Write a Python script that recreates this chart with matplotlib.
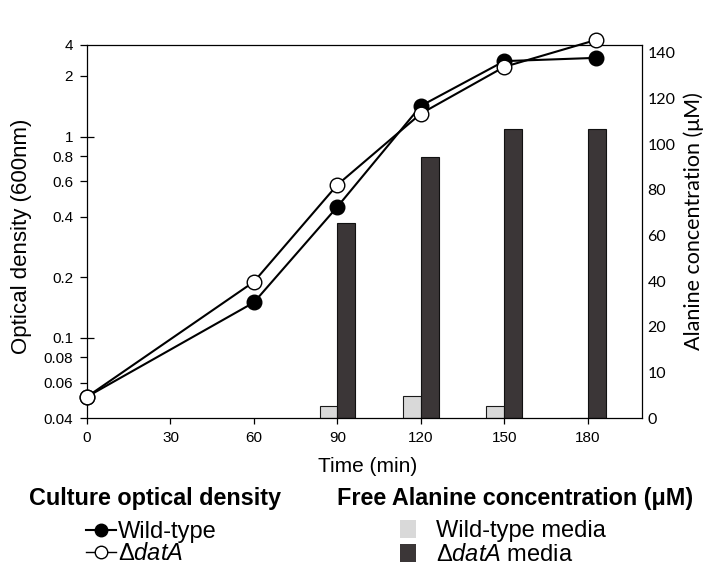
import numpy as np
import matplotlib
matplotlib.use("Agg")
import matplotlib.pyplot as plt
from matplotlib.lines import Line2D
from matplotlib.patches import Patch
from matplotlib.ticker import FixedLocator, FixedFormatter

plt.rcParams['font.family'] = ['Liberation Sans', 'DejaVu Sans']
plt.rcParams['mathtext.fontset'] = 'custom'
plt.rcParams['mathtext.rm'] = 'Liberation Sans'
plt.rcParams['mathtext.it'] = 'Liberation Sans:italic'

############################################################ DATA ##################################

time_min = [0, 60, 90, 120, 150, 183]
od_wildtype = [0.051, 0.150, 0.448, 1.42, 2.37, 2.46]
od_datA = [0.051, 0.190, 0.576, 1.30, 2.22, 3.02]

bar_times = [90, 120, 150, 180]
ala_wildtype = [2.6, 4.8, 2.6, 0.0]
ala_datA = [65.6, 94.5, 106.8, 106.8]

time_ticks = [0, 30, 60, 90, 120, 150, 180]
od_major = [0.1, 1]
od_minor = [0.04, 0.06, 0.08, 0.2, 0.4, 0.6, 0.8, 2]
od_top = 2.85          # axis top, labelled "4" in the original
ala_ticks = [0, 10, 20, 40, 60, 80, 100, 120, 140]

####################################################################################################

# right axis: tick labels are evenly spaced although the steps are not
ala_levels = np.array(ala_ticks + [160], dtype=float)
ala_index = np.arange(len(ala_levels), dtype=float)

def ala_forward(v):
    return np.interp(v, ala_levels, ala_index)

def ala_inverse(i):
    return np.interp(i, ala_index, ala_levels)


fig = plt.figure(figsize=(7.1, 5.71), dpi=100)
ax = fig.add_axes([87/710, 1-418/571, (642-87)/710, (418-45)/571])
ax2 = ax.twinx()
ax.set_zorder(2)
ax.patch.set_visible(False)

# bars (right axis)
bw = 6.4
ax2.bar(bar_times, ala_wildtype, width=-bw, align='edge', color='#d9d9d9',
        edgecolor='#1a1a1a', linewidth=0.8)
ax2.bar(bar_times, ala_datA, width=bw, align='edge', color='#3b3637',
        edgecolor='#111111', linewidth=0.8)
ax2.set_yscale('function', functions=(ala_forward, ala_inverse))
ax2.set_ylim(0, ala_inverse(8.175))
ax2.yaxis.set_major_locator(FixedLocator(ala_ticks))
ax2.yaxis.set_major_formatter(FixedFormatter([str(t) for t in ala_ticks]))
ax2.yaxis.set_minor_locator(FixedLocator([]))
ax2.tick_params(axis='y', length=0, pad=4, labelsize=11.5)
for lab in ax2.get_yticklabels():
    lab.set_fontfamily('Lato')
for s in ax2.spines.values():
    s.set_visible(False)
ax2.set_ylabel('Alanine concentration (μM)', fontsize=15.5, family='Lato')
ax2.yaxis.set_label_coords(1.075, 0.527)

# growth curves (left axis)
ax.plot(time_min, od_wildtype, color='black', lw=1.5, marker='o', ms=10.5,
        mfc='black', mec='black', mew=1, clip_on=False, zorder=3)
ax.plot(time_min, od_datA, color='black', lw=1.5, marker='o', ms=10.5,
        mfc='white', mec='black', mew=1, clip_on=False, zorder=4)

ax.set_yscale('log')
ax.set_ylim(0.04, od_top)
ax.set_xlim(0, 199.5)
ax.yaxis.set_major_locator(FixedLocator(od_major))
ax.yaxis.set_major_formatter(FixedFormatter(['0.1', '1']))
ax.yaxis.set_minor_locator(FixedLocator(od_minor + [od_top]))
ax.yaxis.set_minor_formatter(FixedFormatter([str(v) for v in od_minor] + ['4']))
ax.tick_params(axis='y', which='major', direction='inout', length=9.4, width=0.9,
               pad=5, labelsize=11)
ax.tick_params(axis='y', which='minor', direction='out', length=5, width=0.9,
               pad=5, labelsize=11)
ax.set_xticks(time_ticks)
ax.tick_params(axis='x', direction='out', length=4, width=0.9, pad=5, labelsize=11)
for s in ax.spines.values():
    s.set_linewidth(0.9)

ax.set_xlabel('Time (min)', fontsize=15)
ax.xaxis.set_label_coords(0.505, -0.105)
ax.set_ylabel('Optical density (600nm)', fontsize=16)
ax.yaxis.set_label_coords(-0.099, 0.488)

# legends below the plot
fig.text(155/710, 1-499/571, 'Culture optical density', fontsize=16.8, weight='bold',
         ha='center', va='center')
fig.text(515/710, 1-499/571, 'Free Alanine concentration (μM)', fontsize=16.8,
         weight='bold', ha='center', va='center')

od_handles = [
    Line2D([], [], color='black', lw=1.5, marker='o', ms=9, mfc='black', mec='black'),
    Line2D([], [], color='black', lw=1.0, marker='o', ms=9, mfc='white', mec='black'),
]
fig.legend(od_handles, ['Wild-type', r'Δ$\mathit{datA}$'], loc='center left',
           bbox_to_anchor=(86/710, 1-543/571), frameon=False, fontsize=17,
           handlelength=1.25, handletextpad=0.1, labelspacing=0.0,
           borderpad=0, borderaxespad=0)

ala_handles = [
    Patch(facecolor='#d9d9d9', edgecolor='none'),
    Patch(facecolor='#3b3637', edgecolor='none'),
]
fig.legend(ala_handles, ['Wild-type media', r'Δ$\mathit{datA}$ media'], loc='center left',
           bbox_to_anchor=(400/710, 1-543/571), frameon=False, fontsize=17,
           handlelength=0.68, handleheight=0.8, handletextpad=0.85, labelspacing=0.05,
           borderpad=0, borderaxespad=0)

fig.savefig('out.png', dpi=100)
